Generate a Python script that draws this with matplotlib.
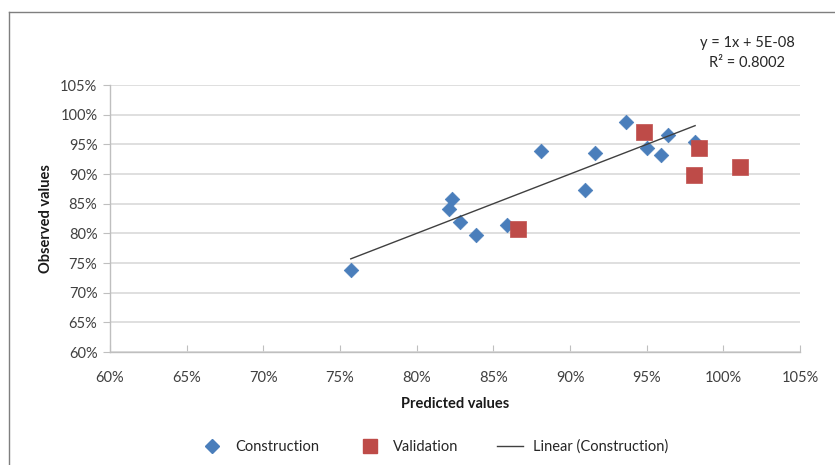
import matplotlib
matplotlib.use("Agg")
import matplotlib.pyplot as plt
from matplotlib.ticker import PercentFormatter, MultipleLocator
from matplotlib.lines import Line2D
import numpy as np

plt.rcParams['font.family'] = ['Lato', 'DejaVu Sans']

# construction set (predicted, observed)
cons_pred = [0.757, 0.823, 0.821, 0.828, 0.8385, 0.859, 0.881, 0.910, 0.916, 0.9365, 0.950, 0.964, 0.959, 0.9815]
cons_obs = [0.738, 0.858, 0.8415, 0.819, 0.797, 0.814, 0.938, 0.873, 0.936, 0.9875, 0.944, 0.966, 0.932, 0.954]

# validation set
val_pred = [0.866, 0.948, 0.984, 0.981, 1.011]
val_obs = [0.807, 0.970, 0.943, 0.898, 0.911]

# linear trend of the construction set
slope = 1.0
intercept = 5e-08
r2 = 0.8002

fig = plt.figure(figsize=(8.35, 4.65), dpi=100)
ax = fig.add_axes([0.1317, 0.243, 0.8266, 0.5742])

ax.yaxis.grid(True, color='#d9d9d9', linewidth=1.2)
ax.set_axisbelow(True)

ax.scatter(cons_pred, cons_obs, marker='D', s=55, color='#4a7ebb', edgecolors='#4a7ebb',
           linewidths=0.5, zorder=3)
ax.scatter(val_pred, val_obs, marker='s', s=120, color='#be4b48', edgecolors='#c0504d',
           linewidths=0.5, zorder=3)

xs = np.array([min(cons_pred), max(cons_pred)])
ax.plot(xs, slope * xs + intercept, color='#404040', linewidth=1.0, zorder=4)

ax.set_xlim(0.60, 1.05)
ax.set_ylim(0.60, 1.05)
ax.xaxis.set_major_locator(MultipleLocator(0.05))
ax.yaxis.set_major_locator(MultipleLocator(0.05))
ax.xaxis.set_major_formatter(PercentFormatter(1.0, decimals=0))
ax.yaxis.set_major_formatter(PercentFormatter(1.0, decimals=0))

for s in ['top', 'right']:
    ax.spines[s].set_visible(False)
for s in ['left', 'bottom']:
    ax.spines[s].set_color('#bfbfbf')
    ax.spines[s].set_linewidth(1.0)

ax.tick_params(axis='x', direction='in', length=5, color='#bfbfbf', labelsize=10.5,
               labelcolor='#404040', pad=14)
ax.tick_params(axis='y', direction='out', length=5, color='#bfbfbf', labelsize=10.5,
               labelcolor='#404040', pad=4)

ax.set_xlabel('Predicted values', fontsize=10.5, fontweight='bold', color='#1a1a1a', labelpad=8)
ax.set_ylabel('Observed values', fontsize=10.5, fontweight='bold', color='#1a1a1a', labelpad=5)

fig.text(0.895, 0.908, 'y = 1x + 5E-08', fontsize=10.5, color='#262626', ha='center', va='center')
fig.text(0.895, 0.865, 'R² = 0.8002', fontsize=10.5, color='#262626', ha='center', va='center')

handles = [
    Line2D([], [], marker='D', linestyle='none', color='#4a7ebb', markersize=7),
    Line2D([], [], marker='s', linestyle='none', color='#be4b48', markersize=10),
    Line2D([], [], color='#404040', linewidth=1.0),
]
fig.legend(handles, ['Construction', 'Validation', 'Linear (Construction)'], loc='center',
           bbox_to_anchor=(0.519, 0.039), ncol=3, frameon=False, fontsize=10.5,
           handlelength=1.8, columnspacing=2.6, handletextpad=0.7, labelcolor='#262626')

# chart area border
fig.add_artist(Line2D([0.011, 1.0], [0.974, 0.974], transform=fig.transFigure, color='#7f7f7f', linewidth=1.0))
fig.add_artist(Line2D([0.011, 0.011], [0.0, 0.974], transform=fig.transFigure, color='#7f7f7f', linewidth=1.0))

fig.savefig('out.png', dpi=100)
